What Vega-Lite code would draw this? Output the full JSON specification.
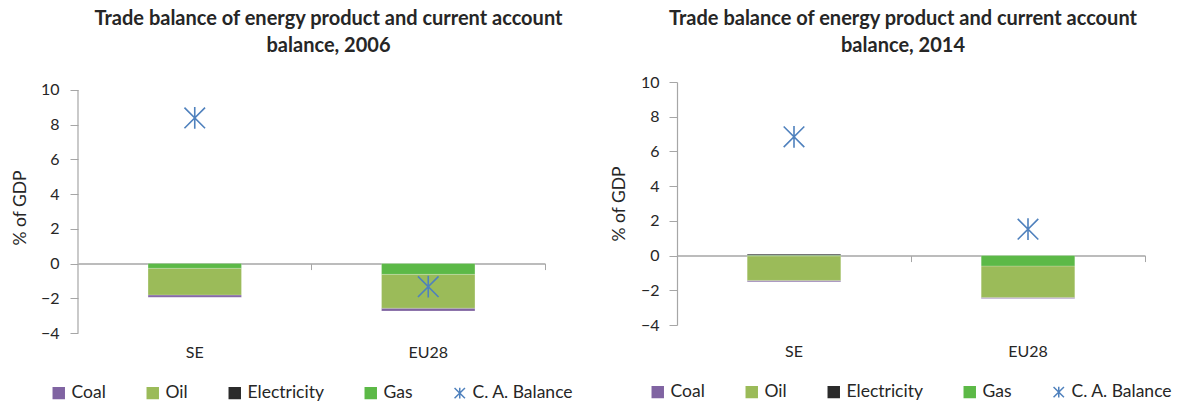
{
  "$schema": "https://vega.github.io/schema/vega-lite/v6.json",
  "padding": {"left": 11, "top": 8, "right": 2, "bottom": 0},
  "config": {
    "font": "Lato",
    "view": {"stroke": null},
    "concat": {"spacing": 36},
    "axis": {"domainColor": "#a6a6a6", "tickColor": "#a6a6a6", "labelColor": "#262626", "labelFontSize": 16, "titleColor": "#262626", "grid": false},
    "legend": {"orient": "bottom", "direction": "horizontal", "title": null, "labelFontSize": 17.5, "labelColor": "#262626", "symbolSize": 120, "symbolStrokeWidth": 1.5, "columnPadding": 38, "labelOffset": 4, "layout": {"anchor": "middle", "bounds": "flush"}}
  },
  "datasets": {
    "bars": [
      {"year": 2006, "country": "SE", "series": "Coal", "value": -0.13},
      {"year": 2006, "country": "SE", "series": "Oil", "value": -1.54},
      {"year": 2006, "country": "SE", "series": "Electricity", "value": 0.02},
      {"year": 2006, "country": "SE", "series": "Gas", "value": -0.27},
      {"year": 2006, "country": "EU28", "series": "Coal", "value": -0.16},
      {"year": 2006, "country": "EU28", "series": "Oil", "value": -1.95},
      {"year": 2006, "country": "EU28", "series": "Electricity", "value": 0.0},
      {"year": 2006, "country": "EU28", "series": "Gas", "value": -0.62},
      {"year": 2014, "country": "SE", "series": "Coal", "value": -0.08},
      {"year": 2014, "country": "SE", "series": "Oil", "value": -1.41},
      {"year": 2014, "country": "SE", "series": "Electricity", "value": 0.08},
      {"year": 2014, "country": "SE", "series": "Gas", "value": -0.02},
      {"year": 2014, "country": "EU28", "series": "Coal", "value": -0.06},
      {"year": 2014, "country": "EU28", "series": "Oil", "value": -1.81},
      {"year": 2014, "country": "EU28", "series": "Electricity", "value": 0.0},
      {"year": 2014, "country": "EU28", "series": "Gas", "value": -0.6}
    ],
    "ca": [
      {"year": 2006, "country": "SE", "series": "C. A. Balance", "value": 8.39},
      {"year": 2006, "country": "EU28", "series": "C. A. Balance", "value": -1.33},
      {"year": 2014, "country": "SE", "series": "C. A. Balance", "value": 6.84},
      {"year": 2014, "country": "EU28", "series": "C. A. Balance", "value": 1.52}
    ]
  },
  "hconcat": [
    {
      "title": {"text": ["Trade balance of energy product and current  account", "balance, 2006"], "fontSize": 20, "fontWeight": "bold", "color": "#262626", "lineHeight": 27, "offset": 26, "dx": 17, "anchor": "middle"},
      "width": 467,
      "height": 251,
      "layer": [
        {
          "data": {"name": "bars"},
          "transform": [
            {"filter": "datum.year == 2006"},
            {"calculate": "indexof(['Gas','Oil','Coal','Electricity'], datum.series)", "as": "stackIdx"}
          ],
          "mark": {"type": "bar", "stroke": "white", "strokeWidth": 0.5, "strokeOpacity": 0.4},
          "encoding": {
            "x": {"field": "country", "type": "nominal", "sort": ["SE", "EU28"],
              "scale": {"domain": ["SE", "EU28"], "paddingInner": 0.6, "paddingOuter": 0.3},
              "axis": {"orient": "bottom", "offset": -69.43, "labels": false, "title": null, "ticks": true, "tickSize": 6, "bandPosition": 1.75, "domainWidth": 1.5}},
            "y": {"field": "value", "type": "quantitative", "stack": "zero",
              "scale": {"domain": [-4, 10.46], "nice": false, "zero": false},
              "axis": {"title": "% of GDP", "titleFontSize": 17.5, "titleFontWeight": "normal", "titlePadding": 11, "values": [-4, -2, 0, 2, 4, 6, 8, 10], "tickSize": 8, "labelPadding": 11, "domain": false}},
            "color": {"field": "series", "type": "nominal",
              "scale": {"domain": ["Coal", "Oil", "Electricity", "Gas", "C. A. Balance"], "range": ["#8064A2", "#9BBB59", "#2b2b2b", "#5CB947", "#4F81BD"]},
              "legend": {"offset": 24}},
            "order": {"field": "stackIdx"}
          }
        },
        {
          "data": {"values": [{}]},
          "mark": {"type": "rule", "color": "#a6a6a6", "strokeWidth": 1.2},
          "encoding": {
            "x": {"datum": "SE", "type": "nominal", "bandPosition": -0.75, "axis": null},
            "y": {"datum": -4, "type": "quantitative",
              "axis": {"title": "% of GDP", "titleFontSize": 17.5, "titleFontWeight": "normal", "titlePadding": 11, "values": [-4, -2, 0, 2, 4, 6, 8, 10], "tickSize": 8, "labelPadding": 11, "domain": false}},
            "y2": {"datum": 10}
          }
        },
        {
          "data": {"name": "ca"},
          "transform": [{"filter": "datum.year == 2006"}],
          "mark": {"type": "point", "filled": true, "size": 470, "strokeWidth": 1.6, "opacity": 1},
          "encoding": {
            "x": {"field": "country", "type": "nominal",
              "axis": {"orient": "bottom", "domain": false, "ticks": false, "labelPadding": 11, "title": null, "labelAngle": 0}},
            "y": {"field": "value", "type": "quantitative",
              "axis": {"title": "% of GDP", "titleFontSize": 17.5, "titleFontWeight": "normal", "titlePadding": 11, "values": [-4, -2, 0, 2, 4, 6, 8, 10], "tickSize": 8, "labelPadding": 11, "domain": false}},
            "color": {"field": "series", "type": "nominal", "legend": {"offset": 24}},
            "stroke": {"field": "series", "type": "nominal",
              "scale": {"domain": ["Coal", "Oil", "Electricity", "Gas", "C. A. Balance"], "range": ["#8064A2", "#9BBB59", "#2b2b2b", "#5CB947", "#4F81BD"]},
              "legend": {"offset": 24}},
            "shape": {"field": "series", "type": "nominal",
              "scale": {"domain": ["Coal", "Oil", "Electricity", "Gas", "C. A. Balance"], "range": ["square", "square", "square", "square", "M0,-1L0,1M-0.95,-0.95L0.95,0.95M-0.95,0.95L0.95,-0.95"]},
              "legend": {"offset": 24}}
          }
        }
      ],
      "resolve": {"axis": {"x": "independent"}}
    },
    {
      "title": {"text": ["Trade balance of energy product and current account", "balance, 2014"], "fontSize": 20, "fontWeight": "bold", "color": "#262626", "lineHeight": 27, "offset": 18, "dx": -8, "anchor": "middle"},
      "width": 468,
      "height": 243,
      "layer": [
        {
          "data": {"name": "bars"},
          "transform": [
            {"filter": "datum.year == 2014"},
            {"calculate": "indexof(['Gas','Oil','Coal','Electricity'], datum.series)", "as": "stackIdx"}
          ],
          "mark": {"type": "bar", "stroke": "white", "strokeWidth": 0.5, "strokeOpacity": 0.4},
          "encoding": {
            "x": {"field": "country", "type": "nominal", "sort": ["SE", "EU28"],
              "scale": {"domain": ["SE", "EU28"], "paddingInner": 0.6, "paddingOuter": 0.3},
              "axis": {"orient": "bottom", "offset": -69.43, "labels": false, "title": null, "ticks": true, "tickSize": 6, "bandPosition": 1.75, "domainWidth": 1.5}},
            "y": {"field": "value", "type": "quantitative", "stack": "zero",
              "scale": {"domain": [-4, 10], "nice": false},
              "axis": {"title": "% of GDP", "titleFontSize": 17.5, "titleFontWeight": "normal", "titlePadding": 12, "values": [-4, -2, 0, 2, 4, 6, 8, 10], "tickSize": 8, "labelPadding": 10, "domainWidth": 1.2}},
            "color": {"field": "series", "type": "nominal",
              "scale": {"domain": ["Coal", "Oil", "Electricity", "Gas", "C. A. Balance"], "range": ["#8064A2", "#9BBB59", "#2b2b2b", "#5CB947", "#4F81BD"]},
              "legend": {"offset": 24}},
            "order": {"field": "stackIdx"}
          }
        },
        {
          "data": {"name": "ca"},
          "transform": [{"filter": "datum.year == 2014"}],
          "mark": {"type": "point", "filled": true, "size": 470, "strokeWidth": 1.6, "opacity": 1},
          "encoding": {
            "x": {"field": "country", "type": "nominal",
              "axis": {"orient": "bottom", "domain": false, "ticks": false, "labelPadding": 18, "title": null, "labelAngle": 0}},
            "y": {"field": "value", "type": "quantitative",
              "axis": {"title": "% of GDP", "titleFontSize": 17.5, "titleFontWeight": "normal", "titlePadding": 12, "values": [-4, -2, 0, 2, 4, 6, 8, 10], "tickSize": 8, "labelPadding": 10, "domainWidth": 1.2}},
            "color": {"field": "series", "type": "nominal", "legend": {"offset": 24}},
            "stroke": {"field": "series", "type": "nominal",
              "scale": {"domain": ["Coal", "Oil", "Electricity", "Gas", "C. A. Balance"], "range": ["#8064A2", "#9BBB59", "#2b2b2b", "#5CB947", "#4F81BD"]},
              "legend": {"offset": 24}},
            "shape": {"field": "series", "type": "nominal",
              "scale": {"domain": ["Coal", "Oil", "Electricity", "Gas", "C. A. Balance"], "range": ["square", "square", "square", "square", "M0,-1L0,1M-0.95,-0.95L0.95,0.95M-0.95,0.95L0.95,-0.95"]},
              "legend": {"offset": 24}}
          }
        }
      ],
      "resolve": {"axis": {"x": "independent"}}
    }
  ],
  "resolve": {"scale": {"color": "independent", "stroke": "independent", "shape": "independent"}, "legend": {"color": "independent", "stroke": "independent", "shape": "independent"}}
}
